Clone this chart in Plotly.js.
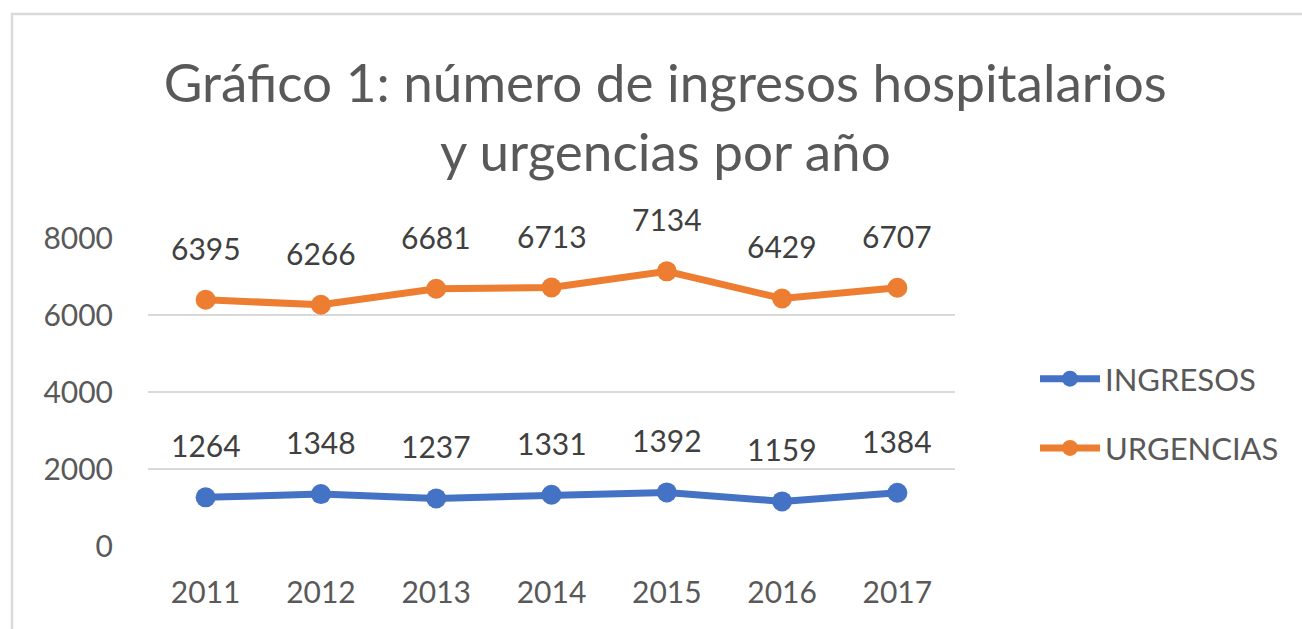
<!DOCTYPE html>
<html>
<head>
<meta charset="utf-8">
<script src="https://cdn.plot.ly/plotly-3.0.1.min.js"></script>
<style>
  html, body { margin: 0; padding: 0; background: #ffffff; }
  #chart { width: 1302px; height: 629px; }
</style>
</head>
<body>
<div id="chart"></div>
<script>
const years = [2011, 2012, 2013, 2014, 2015, 2016, 2017];
const ingresos = [1264, 1348, 1237, 1331, 1392, 1159, 1384];
const urgencias = [6395, 6266, 6681, 6713, 7134, 6429, 6707];
const yTicks = [0, 2000, 4000, 6000, 8000];

const FONT = "Lato, 'Open Sans', sans-serif";
const BLUE = "#4472C4";
const ORANGE = "#ED7D31";

const traces = [
  {
    type: "scatter", mode: "lines+markers", name: "INGRESOS",
    x: years, y: ingresos, legendgroup: "a",
    line: { color: BLUE, width: 7 },
    marker: { color: BLUE, size: 20 }
  },
  {
    type: "scatter", mode: "lines+markers", name: "URGENCIAS",
    x: years, y: urgencias, legendgroup: "b",
    line: { color: ORANGE, width: 7 },
    marker: { color: ORANGE, size: 20 }
  }
];

function labels(vals) {
  return vals.map((v, i) => ({
    x: years[i], y: v, xref: "x", yref: "y",
    text: String(v), showarrow: false, yshift: 52,
    font: { family: FONT, size: 30, color: "#404040" }
  }));
}

const layout = {
  width: 1302, height: 629,
  paper_bgcolor: "#ffffff", plot_bgcolor: "#ffffff",
  margin: { l: 148, r: 347, t: 238, b: 83 },
  font: { family: FONT, color: "#595959" },
  title: {
    text: "Gráfico 1: número de ingresos hospitalarios<br>y urgencias por año",
    x: 0.511, xref: "container", xanchor: "center",
    y: 0.838, yref: "container", yanchor: "top",
    font: { family: FONT, size: 53, color: "#595959" }
  },
  xaxis: {
    range: [years[0] - 0.5, years[years.length - 1] + 0.5],
    tickvals: years, ticktext: years.map(String),
    showgrid: false, zeroline: false, showline: false,
    ticks: "", ticklabelstandoff: 26,
    tickfont: { family: FONT, size: 30, color: "#595959" }
  },
  yaxis: {
    range: [0, 8000], tickvals: yTicks, ticktext: yTicks.map(String),
    showgrid: true, gridcolor: "#d9d9d9", gridwidth: 2,
    zeroline: false, showline: false, ticks: "",
    ticklabelstandoff: 34,
    tickfont: { family: FONT, size: 30, color: "#595959" }
  },
  showlegend: true,
  legend: {
    xref: "container", yref: "container",
    x: 1035 / 1302, y: 1 - 352 / 629, xanchor: "left", yanchor: "top",
    font: { family: FONT, size: 31, color: "#595959" },
    tracegroupgap: 26, itemwidth: 60
  },
  annotations: labels(ingresos).concat(labels(urgencias)),
  shapes: [{
    type: "rect", xref: "paper", yref: "paper",
    x0: -136 / 807, x1: 400 / 807 + 1, y0: -1, y1: 1 + 224 / 308,
    line: { color: "#d9d9d9", width: 2.5 }, fillcolor: "rgba(0,0,0,0)", layer: "below"
  }]
};

Plotly.newPlot("chart", traces, layout, { displayModeBar: false, staticPlot: true });
</script>
</body>
</html>
